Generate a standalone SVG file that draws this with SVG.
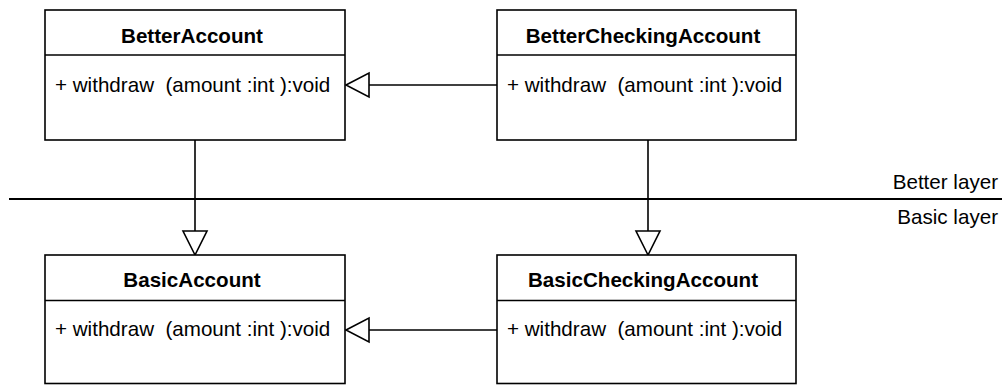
<svg xmlns="http://www.w3.org/2000/svg" width="1002" height="385" viewBox="0 0 1002 385">
  <style>
    .box { fill: #ffffff; stroke: #000000; stroke-width: 1.6; }
    .sep { stroke: #000000; stroke-width: 1.6; }
    .title { font-family: "Liberation Sans", Arial, sans-serif; font-size: 20.6px; font-weight: bold; text-anchor: middle; fill: #000; }
    .op { font-family: "Liberation Sans", Arial, sans-serif; font-size: 20.6px; fill: #000; white-space: pre; }
    .layer { font-family: "Liberation Sans", Arial, sans-serif; font-size: 20.6px; text-anchor: end; fill: #000; }
    .edge { stroke: #000000; stroke-width: 1.6; fill: none; }
    .head { fill: #ffffff; stroke: #000000; stroke-width: 1.6; }
  </style>

  <!-- layer boundary -->
  <g id="layers">
    <line x1="9" y1="199" x2="1002" y2="199" stroke="#000" stroke-width="2"/>
    <text class="layer" x="998" y="189">Better layer</text>
    <text class="layer" x="998" y="224">Basic layer</text>
  </g>

  <!-- generalisation connectors -->
  <g id="connectors">
    <line class="edge" x1="497" y1="85" x2="369" y2="85"/>
    <polygon class="head" points="346,85 369,73 369,97"/>
    <line class="edge" x1="497" y1="330" x2="369" y2="330"/>
    <polygon class="head" points="346,330 369,318 369,342"/>
    <line class="edge" x1="195" y1="140" x2="195" y2="231"/>
    <polygon class="head" points="195,255 183,231 207,231"/>
    <line class="edge" x1="648" y1="140" x2="648" y2="231"/>
    <polygon class="head" points="648,255 636,231 660,231"/>
  </g>

  <g id="BetterAccount">
    <rect class="box" x="45" y="10" width="300" height="130"/>
    <line class="sep" x1="45" y1="55" x2="345" y2="55"/>
    <text class="title" x="192" y="43">BetterAccount</text>
    <text class="op" x="55" y="92">+ withdraw  (amount :int ):void</text>
  </g>

  <g id="BetterCheckingAccount">
    <rect class="box" x="497" y="10" width="299" height="130"/>
    <line class="sep" x1="497" y1="55" x2="796" y2="55"/>
    <text class="title" x="643" y="43">BetterCheckingAccount</text>
    <text class="op" x="507" y="92">+ withdraw  (amount :int ):void</text>
  </g>

  <g id="BasicAccount">
    <rect class="box" x="45" y="255" width="300" height="128.5"/>
    <line class="sep" x1="45" y1="300.5" x2="345" y2="300.5"/>
    <text class="title" x="192" y="287">BasicAccount</text>
    <text class="op" x="55" y="336">+ withdraw  (amount :int ):void</text>
  </g>

  <g id="BasicCheckingAccount">
    <rect class="box" x="497" y="255" width="299" height="128.5"/>
    <line class="sep" x1="497" y1="300.5" x2="796" y2="300.5"/>
    <text class="title" x="643" y="287">BasicCheckingAccount</text>
    <text class="op" x="507" y="336">+ withdraw  (amount :int ):void</text>
  </g>
</svg>
